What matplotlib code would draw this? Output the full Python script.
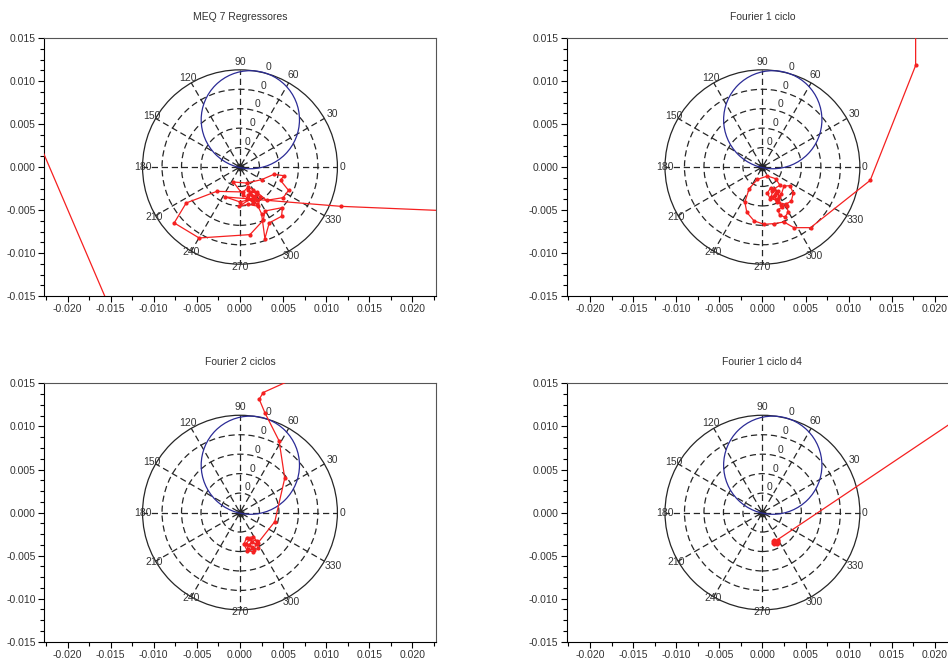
import numpy as np
import matplotlib.pyplot as plt
from matplotlib.patches import Circle
from matplotlib.ticker import MultipleLocator, FormatStrFormatter

plt.rcParams['font.family'] = ['Liberation Sans', 'DejaVu Sans']
plt.rcParams['axes.unicode_minus'] = False

# Panel titles
TITLES = ['MEQ 7 Regressores', 'Fourier 1 ciclo', 'Fourier 2 ciclos', 'Fourier 1 ciclo d4']

# Polar grid (drawn on cartesian axes, Scilab style)
GRID_R = 0.0113
RING_FRACS = [0.2, 0.4, 0.6, 0.8, 1.0]
RING_LABELS = ['0', '0', '0', '0', '0']
SPOKE_ANGLES = [0, 30, 60, 90, 120, 150, 180, 210, 240, 270, 300, 330]
SPOKE_LABELS = ['0', '30', '60', '90', '120', '150', '180', '210', '240', '270', '300', '330']

# blue reference circle
REF_CENTER = (0.0012, 0.0055)
REF_RADIUS = 0.0057

# red trajectories (estimates), first points lie outside the view
meq_x = [-0.0300, -0.0080, 0.0600, 0.01168, -0.00170, 0.00000, 0.00154, 0.00096,
         0.00193, 0.00135, 0.00039, -0.00077, 0.00077, 0.00250, 0.00393, 0.00509,
         0.00470, 0.00563, 0.00501, 0.00308, 0.00193, 0.00096, 0.00039, -0.00270,
         -0.00624, -0.00763, -0.00474, 0.00116, 0.00270, 0.00289, 0.00493, 0.00482,
         0.00339, 0.00289, 0.00250, 0.00193, 0.00077, 0.00154, 0.00231, 0.00212,
         0.00096, -0.00008, 0.00173, 0.00120, 0.00200, 0.00150, 0.00090, 0.00170]
meq_y = [0.0185, -0.0330, -0.0066, -0.00457, -0.00348, -0.00406, -0.00368, -0.00271,
         -0.00310, -0.00387, -0.00329, -0.00174, -0.00186, -0.00147, -0.00085, -0.00101,
         -0.00155, -0.00271, -0.00356, -0.00387, -0.00290, -0.00232, -0.00290, -0.00283,
         -0.00418, -0.00650, -0.00825, -0.00786, -0.00619, -0.00511, -0.00472, -0.00573,
         -0.00650, -0.00832, -0.00542, -0.00426, -0.00368, -0.00271, -0.00348, -0.00457,
         -0.00434, -0.00453, -0.00341, -0.00300, -0.00380, -0.00420, -0.00320, -0.00360]

f1_x = [0.01777, 0.01777, 0.01250, 0.00558, 0.00365, 0.00250,
        0.00135, 0.00019, -0.00096, -0.00181, -0.00204, -0.00154, -0.00058, 0.00058,
        0.00154, 0.00204,
        0.00135, 0.00096, 0.00058, 0.00088, 0.00165, 0.00219,
        0.00250, 0.00319, 0.00358, 0.00335, 0.00269,
        0.00173, 0.00104, 0.00115, 0.00181, 0.00192,
        0.00212, 0.00281, 0.00300, 0.00262, 0.00200, 0.00181, 0.00231,
        0.00173, 0.00135, 0.00154, 0.00142]
f1_y = [0.0300, 0.01181, -0.00155, -0.00705, -0.00705, -0.00639,
        -0.00658, -0.00666, -0.00627, -0.00527, -0.00407, -0.00252, -0.00143, -0.00105,
        -0.00136, -0.00213,
        -0.00252, -0.00240, -0.00302, -0.00368, -0.00379, -0.00317,
        -0.00221, -0.00217, -0.00302, -0.00395, -0.00434,
        -0.00407, -0.00348, -0.00279, -0.00279, -0.00348,
        -0.00445, -0.00457, -0.00523, -0.00581, -0.00561, -0.00496, -0.00465,
        -0.00387, -0.00341, -0.00302, -0.00329]

f2_x = [0.0161, 0.00269, 0.00223, 0.00288, 0.00454, 0.00519, 0.00404, 0.00212,
        0.00154, 0.00077, 0.00046, 0.00085, 0.00154, 0.00212, 0.00192, 0.00115,
        0.00069, 0.00096, 0.00162, 0.00185, 0.00135, 0.00108, 0.00142]
f2_y = [0.0200, 0.01394, 0.01316, 0.01161, 0.00832, 0.00399, -0.00105, -0.00348,
        -0.00283, -0.00290, -0.00368, -0.00445, -0.00453, -0.00406, -0.00329, -0.00310,
        -0.00360, -0.00426, -0.00430, -0.00368, -0.00337, -0.00375, -0.00399]

f1d4_x = [0.0350, 0.00175, 0.00135, 0.00180, 0.00130, 0.00125, 0.00172, 0.00158,
          0.00140, 0.00168, 0.00148, 0.00160, 0.00128, 0.00182]
f1d4_y = [0.0192, -0.00315, -0.00368, -0.00352, -0.00320, -0.00348, -0.00370, -0.00328,
          -0.00355, -0.00338, -0.00340, -0.00348, -0.00335, -0.00335]

TRAJ_X = [meq_x, f1_x, f2_x, f1d4_x]
TRAJ_Y = [meq_y, f1_y, f2_y, f1d4_y]

# axes rectangles in figure fraction (right column runs past the figure edge)
AX_POS = [[0.0467, 0.5508, 0.4129, 0.3915],
          [0.5978, 0.5508, 0.4129, 0.3915],
          [0.0467, 0.0262, 0.4129, 0.3920],
          [0.5978, 0.0262, 0.4129, 0.3920]]

TXT = '#333333'
GRID_COL = '#262626'
# label radius factors for the angle labels (text sits near the outer ring)
LABEL_RF = [1.05, 1.09, 1.09, 1.085, 1.06, 1.045, 1.0, 1.02, 1.01, 1.025, 1.06, 1.1]


def draw_polar_grid(ax):
    ring_dash = (0, (5, 3))
    spoke_dash = (6, (5, 3))
    for f in RING_FRACS:
        ls = '-' if f == 1.0 else ring_dash
        ax.add_patch(Circle((0, 0), GRID_R * f, fill=False, ec=GRID_COL,
                            lw=0.9, ls=ls, zorder=1))
    for a in SPOKE_ANGLES:
        t = np.deg2rad(a)
        ax.plot([0, GRID_R * np.cos(t)], [0, GRID_R * np.sin(t)],
                color=GRID_COL, lw=0.9, ls=spoke_dash, zorder=1)
    # small asterisk at the pole
    ax.plot(0, 0, marker=(16, 2, 0), ms=6, mew=0.5, color=GRID_COL, zorder=2)
    for a, lab, rf in zip(SPOKE_ANGLES, SPOKE_LABELS, LABEL_RF):
        t = np.deg2rad(a)
        ax.text(GRID_R * rf * np.cos(t), GRID_R * rf * np.sin(t), lab,
                ha='center', va='center', fontsize=7.5, color=TXT, zorder=2)
    t = np.deg2rad(74)
    for f, lab in zip(RING_FRACS, RING_LABELS):
        r = GRID_R * (f + 0.07)
        ax.text(r * np.cos(t), r * np.sin(t), lab, ha='center', va='center',
                fontsize=7.5, color=TXT, zorder=2)


fig = plt.figure(figsize=(9.48, 6.59), dpi=100)

for i in range(4):
    ax = fig.add_axes(AX_POS[i])
    draw_polar_grid(ax)
    ax.add_patch(Circle(REF_CENTER, REF_RADIUS, fill=False, ec='#2b2b96', lw=0.9, zorder=3))
    ax.plot(TRAJ_X[i], TRAJ_Y[i], color='#f52020', lw=0.9, marker='o', ms=2.0,
            mec='#f52020', mfc='#f52020', zorder=4)

    ax.set_xlim(-0.0227, 0.0227)
    ax.set_ylim(-0.015, 0.015)
    ax.set_aspect('auto')
    ax.xaxis.set_major_locator(MultipleLocator(0.005))
    ax.xaxis.set_minor_locator(MultipleLocator(0.0025))
    ax.yaxis.set_major_locator(MultipleLocator(0.005))
    ax.yaxis.set_minor_locator(MultipleLocator(0.00125))
    ax.xaxis.set_major_formatter(FormatStrFormatter('%.3f'))
    ax.yaxis.set_major_formatter(FormatStrFormatter('%.3f'))
    ax.tick_params(which='both', direction='out', labelsize=7.5, labelcolor=TXT,
                   width=0.8, top=False, right=False)
    ax.tick_params(which='major', length=4)
    ax.tick_params(which='minor', length=3)
    ax.tick_params(axis='y', pad=2)
    ax.tick_params(axis='x', pad=2)
    for sp in ax.spines.values():
        sp.set_linewidth(0.8)
    ax.spines['top'].set_color('#555555')
    ax.spines['right'].set_color('#555555')
    ax.set_title(TITLES[i], fontsize=7.5, color=TXT, pad=13)

fig.savefig('out.png', dpi=100)
